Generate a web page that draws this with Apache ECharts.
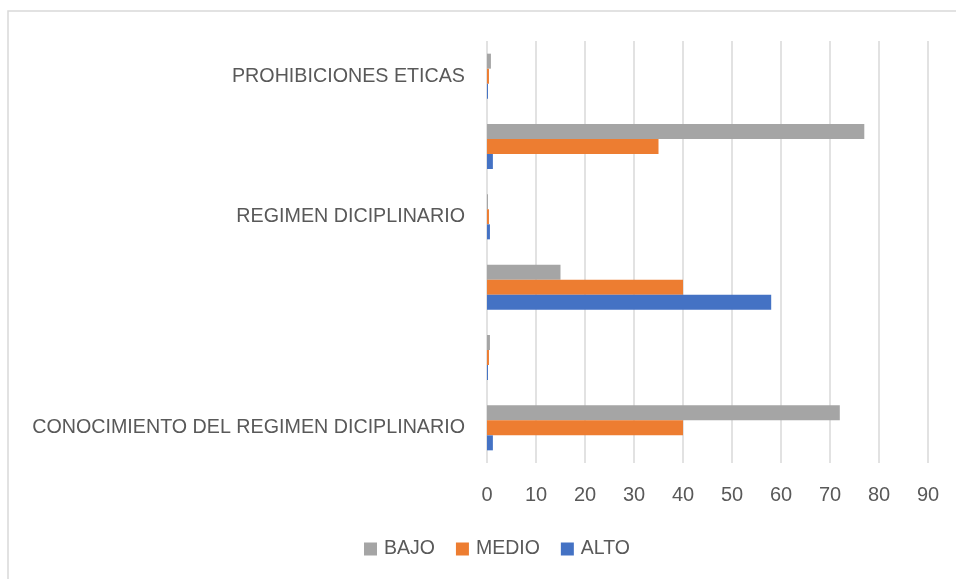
<!DOCTYPE html>
<html>
<head>
<meta charset="utf-8">
<script src="https://cdn.jsdelivr.net/npm/echarts@6/dist/echarts.min.js"></script>
<style>
html,body{margin:0;padding:0;background:#fff;}
#chart{width:956px;height:579px;}
</style>
</head>
<body>
<div id="chart"></div>
<script>
// Categories from bottom to top
const categories = [
  'CONOCIMIENTO DEL REGIMEN DICIPLINARIO',
  '',
  '',
  'REGIMEN DICIPLINARIO',
  '',
  'PROHIBICIONES ETICAS'
];
const seriesNames = ['BAJO', 'MEDIO', 'ALTO'];
const bajo  = [72, 0.6, 15, 0.2, 77, 0.8];
const medio = [40, 0.4, 40, 0.4, 35, 0.4];
const alto  = [1.2, 0.2, 58, 0.6, 1.2, 0.2];
const xTicks = [0, 10, 20, 30, 40, 50, 60, 70, 80, 90];
const colors = { BAJO: '#A5A5A5', MEDIO: '#ED7D31', ALTO: '#4472C4' };

const chart = echarts.init(document.getElementById('chart'));
const font = 'Liberation Sans';
const mk = (name, data) => ({
  name: name,
  type: 'bar',
  data: data,
  barWidth: 15,
  barGap: '0%',
  itemStyle: { color: colors[name] },
  emphasis: { disabled: true }
});
chart.setOption({
  animation: false,
  graphic: [{
    type: 'rect',
    shape: { x: 8, y: 11, width: 970, height: 590 },
    style: { fill: 'none', stroke: '#d9d9d9', lineWidth: 1.5 },
    silent: true
  }],
  grid: { left: 487, right: 28, top: 41, bottom: 116, containLabel: false },
  legend: {
    data: seriesNames,
    left: 359,
    top: 534,
    icon: 'rect',
    itemWidth: 13,
    itemHeight: 13,
    itemGap: 21,
    textStyle: { fontFamily: font, fontSize: 19.5, color: '#595959', padding: [0, 0, 0, 2] }
  },
  xAxis: {
    type: 'value',
    min: xTicks[0],
    max: xTicks[xTicks.length - 1],
    interval: 10,
    axisLine: { show: false },
    axisTick: { show: false },
    axisLabel: { fontFamily: font, fontSize: 20, color: '#595959', margin: 22 },
    splitLine: { lineStyle: { color: '#d9d9d9', width: 1.5 } }
  },
  yAxis: {
    type: 'category',
    data: categories,
    axisLine: { show: false },
    axisTick: { show: false },
    axisLabel: { interval: 0, fontFamily: font, fontSize: 19.7, color: '#595959', margin: 22 }
  },
  series: [mk('BAJO', bajo), mk('MEDIO', medio), mk('ALTO', alto)]
});
</script>
</body>
</html>
